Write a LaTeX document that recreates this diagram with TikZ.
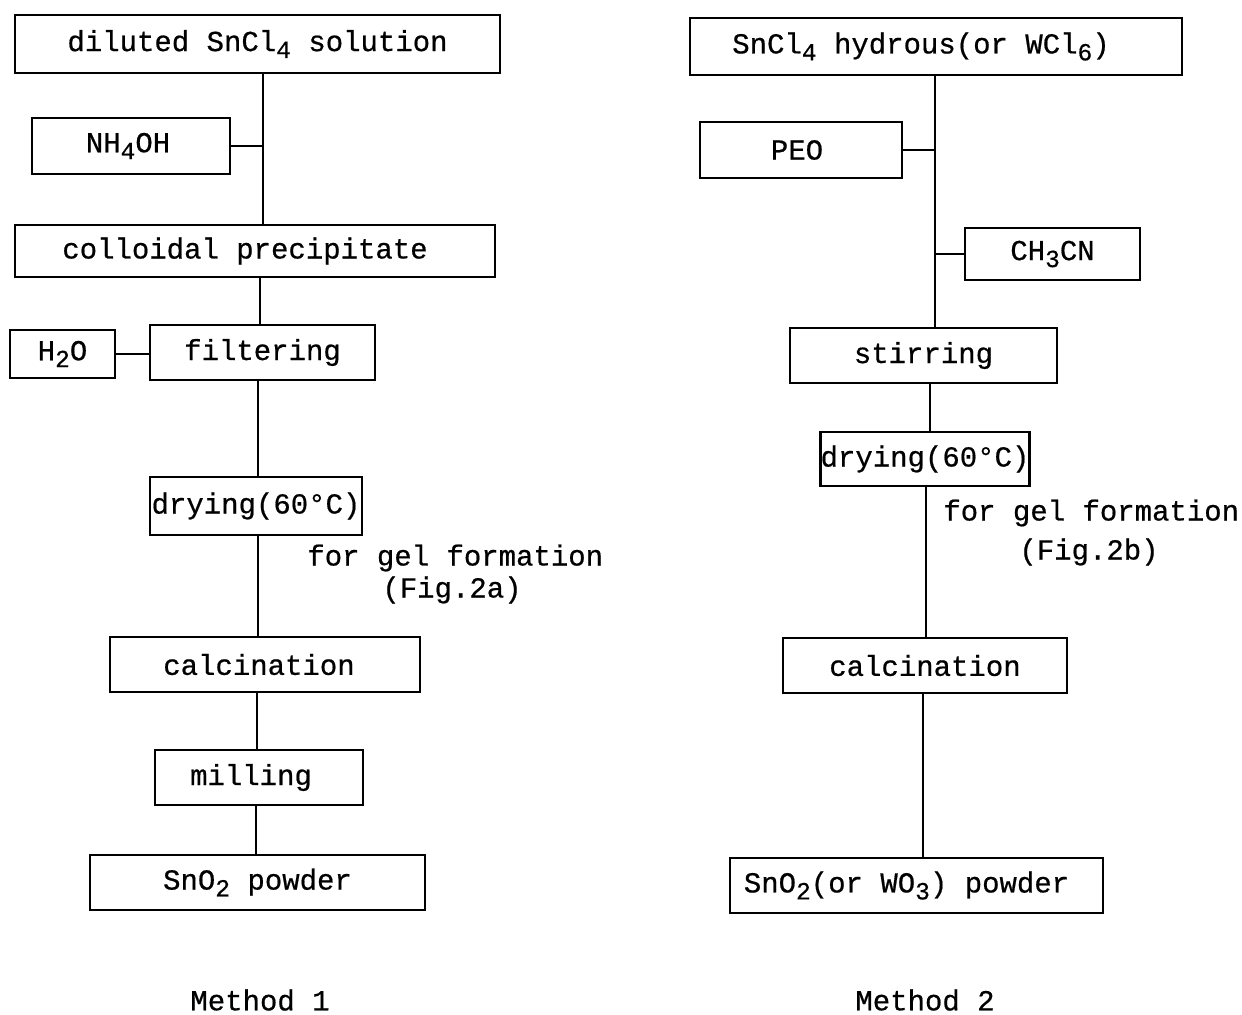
\documentclass[tikz,border=0pt]{standalone}
\usepackage{fontspec}
\setmainfont{Liberation Mono}[FakeBold=0.6]
\newcommand\lowsub[1]{\raisebox{-0.45ex}{\fontsize{14}{14}\selectfont #1}}
\newcommand\tshift[1]{\hspace*{#1}}
\begin{document}
\begin{tikzpicture}[x=0.02cm,y=-0.02cm,
  box/.style={draw, line width=1.5pt, inner sep=0pt, font=\fontsize{16.5}{18}\selectfont},
  txt/.style={inner sep=0pt, font=\fontsize{16.5}{18}\selectfont},
  link/.style={line width=1.1pt}]
\useasboundingbox (0,0) rectangle (1242,1015);
% ---------- Method 1 ----------
\node[box, minimum width=9.7cm, minimum height=1.16cm] (a1) at (257.5,44) {diluted SnCl\lowsub{4} solution};
\node[box, minimum width=3.96cm, minimum height=1.12cm] (a2) at (131,146) {\tshift{-0.12cm}NH\lowsub{4}OH};
\node[box, minimum width=9.6cm, minimum height=1.04cm] (a3) at (255,251) {\tshift{-0.4cm}colloidal precipitate};
\node[box, minimum width=2.1cm, minimum height=0.96cm] (a4) at (62.5,354) {H\lowsub{2}O};
\node[box, minimum width=4.5cm, minimum height=1.1cm] (a5) at (262.5,352.5) {filtering};
\node[box, minimum width=4.24cm, minimum height=1.16cm] (a6) at (256,506) {drying(60°C)};
\node[txt, anchor=west] (g1) at (307,558) {for gel formation};
\node[txt] (f1) at (452,590) {(Fig.2a)};
\node[box, minimum width=6.2cm, minimum height=1.1cm] (a7) at (265,664.5) {\tshift{-0.24cm}calcination};
\node[box, minimum width=4.16cm, minimum height=1.1cm] (a8) at (259,777.5) {\tshift{-0.32cm}milling};
\node[box, minimum width=6.7cm, minimum height=1.1cm] (a9) at (257.5,882.5) {SnO\lowsub{2} powder};
\node[txt] (m1) at (260,1000) {Method 1};
\coordinate (ta) at (263,0);
\coordinate (tb) at (260,0);
\coordinate (tc) at (258,0);
\coordinate (td) at (257,0);
\coordinate (te) at (256,0);
\draw[link] (a1.south -| ta) -- (a3.north -| ta);
\draw[link] (a2.east) -- (a2.east -| ta);
\draw[link] (a3.south -| tb) -- (a5.north -| tb);
\draw[link] (a4.east) -- (a4.east -| a5.west);
\draw[link] (a5.south -| tc) -- (a6.north -| tc);
\draw[link] (a6.south -| tc) -- (a7.north -| tc);
\draw[link] (a7.south -| td) -- (a8.north -| td);
\draw[link] (a8.south -| te) -- (a9.north -| te);
% ---------- Method 2 ----------
\node[box, minimum width=9.84cm, minimum height=1.14cm] (b1) at (936,46.5) {\tshift{-0.6cm}SnCl\lowsub{4} hydrous(or WCl\lowsub{6})};
\node[box, minimum width=4.04cm, minimum height=1.12cm] (b2) at (801,150) {\tshift{-0.16cm}PEO};
\node[box, minimum width=3.5cm, minimum height=1.04cm] (b3) at (1052.5,254) {CH\lowsub{3}CN};
\node[box, minimum width=5.34cm, minimum height=1.1cm] (b4) at (923.5,355.5) {stirring};
\node[box, minimum width=4.12cm, minimum height=1.08cm] (b5) at (925,459) {drying(60°C)};
\node[txt, anchor=west] (g2) at (943,513) {for gel formation};
\node[txt] (f2) at (1089,552) {(Fig.2b)};
\node[box, minimum width=5.68cm, minimum height=1.1cm] (b6) at (925,665.5) {calcination};
\node[box, minimum width=7.46cm, minimum height=1.1cm] (b7) at (916.5,885.5) {\tshift{-0.4cm}SnO\lowsub{2}(or WO\lowsub{3}) powder};
\node[txt] (m2) at (925,1000) {Method 2};
\coordinate (tf) at (935,0);
\coordinate (tg) at (930,0);
\coordinate (th) at (926,0);
\coordinate (ti) at (923,0);
\draw[link] (b1.south -| tf) -- (b4.north -| tf);
\draw[link] (b2.east) -- (b2.east -| tf);
\draw[link] (b3.west) -- (b3.west -| tf);
\draw[link] (b4.south -| tg) -- (b5.north -| tg);
\draw[link] (b5.south -| th) -- (b6.north -| th);
\draw[link] (b6.south -| ti) -- (b7.north -| ti);
\end{tikzpicture}
\end{document}
